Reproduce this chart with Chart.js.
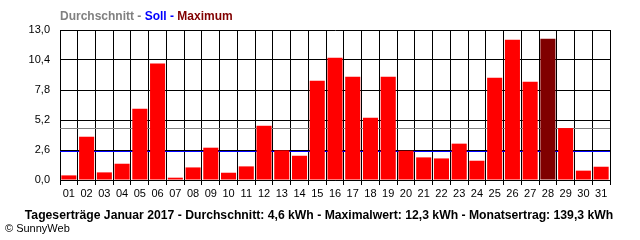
<!DOCTYPE html>
<html>
<head>
<meta charset="utf-8">
<script src="https://cdn.jsdelivr.net/npm/chart.js@4/dist/chart.umd.min.js"></script>
<style>
  html, body { margin: 0; padding: 0; background: #fff; }
  #wrap { width: 640px; height: 240px; }
</style>
</head>
<body>
<div id="wrap"><canvas id="chart" width="640" height="240"></canvas></div>
<script>
// Tageserträge Januar 2017 (kWh)
const days = ['01','02','03','04','05','06','07','08','09','10','11','12','13','14','15','16',
              '17','18','19','20','21','22','23','24','25','26','27','28','29','30','31'];
const yields = [0.4, 3.75, 0.66, 1.41, 6.18, 10.1, 0.2, 1.09, 2.8, 0.63, 1.18, 4.7, 2.57, 2.1, 8.6, 10.6,
                8.95, 5.4, 8.95, 2.54, 1.96, 1.87, 3.15, 1.67, 8.87, 12.16, 8.52, 12.25, 4.5, 0.81, 1.15];
const yTicks = [0, 2.6, 5.2, 7.8, 10.4, 13.0];
const average = 4.5;   // Durchschnitt
const target = 2.5;    // Soll

const FONT = '"Liberation Sans", Arial, sans-serif';
const maxVal = Math.max(...yields);
const barColors = yields.map(v => v === maxVal ? '#800000' : '#ff0000');

// reference lines (Durchschnitt / Soll) behind the bars
const refLines = {
    id: 'refLines',
    beforeDatasetsDraw(chart) {
        const { ctx, chartArea, scales } = chart;
        ctx.save();
        ctx.lineWidth = 1;
        [[average, '#808080'], [target, '#0000ff']].forEach(([val, col]) => {
            const y = Math.round(scales.y.getPixelForValue(val)) + 0.5;
            ctx.strokeStyle = col;
            ctx.beginPath();
            ctx.moveTo(chartArea.left, y);
            ctx.lineTo(chartArea.right, y);
            ctx.stroke();
        });
        ctx.restore();
    }
};

// headline and footer texts
const texts = {
    id: 'texts',
    afterDraw(chart) {
        const { ctx } = chart;
        ctx.save();
        ctx.textBaseline = 'middle';
        ctx.font = 'bold 12px ' + FONT;
        const parts = [['Durchschnitt', '#808080'], [' - ', '#808080'], ['Soll', '#0000ff'],
                       [' - ', '#0000ff'], ['Maximum', '#800000']];
        let x = 60;
        parts.forEach(([t, c]) => {
            ctx.fillStyle = c;
            ctx.fillText(t, x, 17);
            x += ctx.measureText(t).width;
        });
        ctx.fillStyle = '#000';
        ctx.textAlign = 'center';
        ctx.font = 'bold 12.2px ' + FONT;
        ctx.fillText('Tageserträge Januar 2017 - Durchschnitt: 4,6 kWh - Maximalwert: 12,3 kWh - Monatsertrag: 139,3 kWh', 319, 216);
        ctx.textAlign = 'left';
        ctx.font = '11px ' + FONT;
        ctx.fillText('© SunnyWeb', 5, 229);
        ctx.restore();
    }
};

new Chart(document.getElementById('chart'), {
    type: 'bar',
    data: {
        labels: days,
        datasets: [{
            data: yields,
            backgroundColor: barColors,
            borderWidth: 0,
            barPercentage: 0.85,
            categoryPercentage: 1.0
        }]
    },
    options: {
        responsive: false,
        animation: false,
        layout: { padding: { top: 30, right: 30, bottom: 35, left: 0 } },
        plugins: {
            legend: { display: false },
            tooltip: { enabled: false },
            title: { display: false }
        },
        scales: {
            x: {
                offset: true,
                grid: { color: '#000', lineWidth: 1, offset: true, tickLength: 5, drawOnChartArea: true },
                border: { color: '#000' },
                ticks: { color: '#000', font: { family: FONT, size: 11 }, maxRotation: 0, autoSkip: false, padding: 2 },
                afterFit(scale) { scale.height = 25; }
            },
            y: {
                min: 0,
                max: 13,
                grid: { color: '#000', lineWidth: 1, drawTicks: false },
                border: { color: '#000' },
                ticks: {
                    color: '#000',
                    font: { family: FONT, size: 11 },
                    padding: 10,
                    callback: v => v.toFixed(1).replace('.', ',')
                },
                afterBuildTicks(scale) { scale.ticks = yTicks.map(v => ({ value: v })); },
                afterFit(scale) { scale.width = 60; }
            }
        }
    },
    plugins: [refLines, texts]
});
</script>
</body>
</html>
